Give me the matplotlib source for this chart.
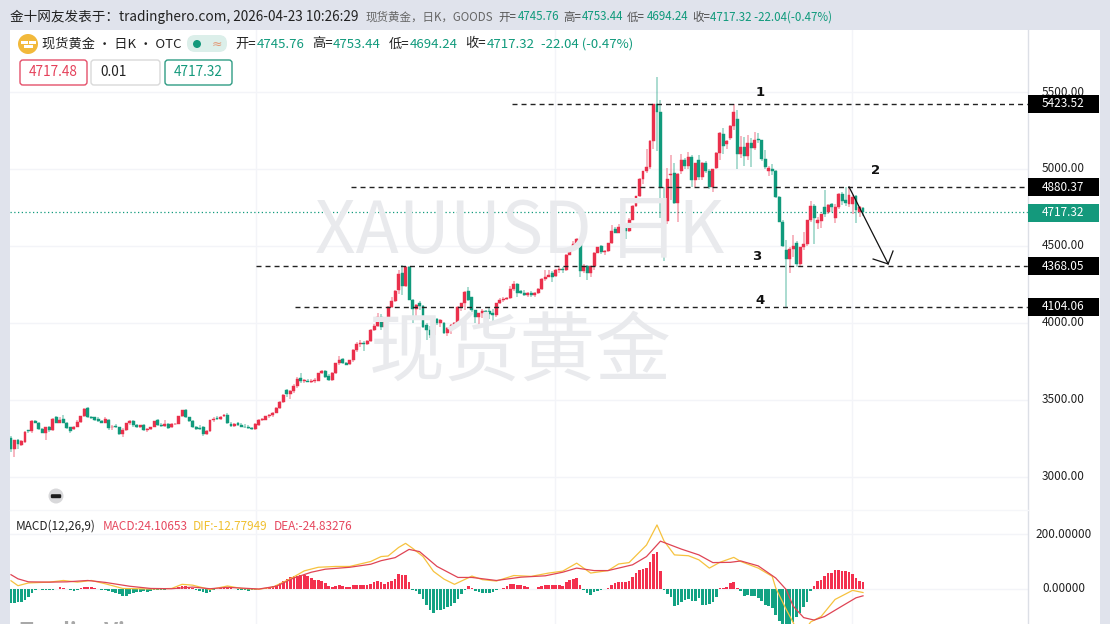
import numpy as np
import matplotlib
matplotlib.use('Agg')
import matplotlib.pyplot as plt
from matplotlib.patches import Rectangle, Circle, FancyBboxPatch

plt.rcParams['font.family'] = ['Noto Sans CJK SC', 'DejaVu Sans']

W, H = 1110, 624

# daily candles, oldest first
opens = [
    3252, 3176, 3240, 3205, 3225, 3300, 3295, 3360, 3350, 3310, 3285, 3320, 3300, 3385, 3350, 3375, 3350, 3320, 3310, 3325,
    3355, 3392, 3445, 3385, 3385, 3375, 3360, 3350, 3368, 3320, 3328, 3320, 3275, 3305, 3345, 3362, 3335, 3322, 3335, 3300,
    3310, 3325, 3365, 3335, 3328, 3342, 3322, 3340, 3342, 3392, 3435, 3385, 3360, 3320, 3318, 3320, 3275, 3295, 3365, 3382,
    3376, 3395, 3402, 3340, 3330, 3345, 3332, 3325, 3322, 3315, 3310, 3338, 3370, 3370, 3392, 3400, 3414, 3445, 3485, 3560,
    3535, 3555,
    3590, 3640, 3620, 3622, 3615, 3618, 3622, 3673, 3688, 3655, 3625, 3673, 3735, 3762, 3735, 3730, 3755, 3825, 3860, 3870, 3860,
    3880, 3955, 3980, 4040, 3970, 4010, 4105, 4140, 4210, 4320, 4240, 4360, 4145, 4090, 4130, 4110, 3985, 3950, 3918, 4025,
    3995, 3995, 3930, 3968, 3985, 3995, 4105, 4127, 4205, 4165, 4080, 4037, 4062, 4075, 4075, 4060, 4050, 4128, 4145, 4155,
    4160, 4218, 4250, 4205, 4195, 4180, 4195, 4180, 4195, 4222, 4285, 4300, 4325, 4305, 4340, 4352, 4340, 4443, 4487, 4510,
    4545, 4337, 4368, 4320, 4368, 4455, 4500, 4460, 4465, 4515, 4610, 4585, 4630, 4615, 4595, 4670, 4760, 4822, 4935, 4985,
    5010, 5180, 5423, 5373, 4790, 4660, 4960, 4975, 4780, 4985, 5060, 5020, 5080, 4925, 5060,
    4950, 5040, 4985, 4880, 5005, 5105, 5230, 5165, 5200, 5280, 5322, 5095, 5140, 5085, 5170, 5135, 5195, 5185,
    5065, 4985, 5000, 4985, 4820, 4655, 4475, 4415, 4480, 4515, 4380, 4490, 4510, 4670, 4760, 4650, 4660, 4750, 4720, 4775,
    4680, 4755, 4840, 4800, 4775, 4770, 4825, 4720, 4745.76,
]
highs = [
    3262, 3235, 3245, 3235, 3295, 3305, 3365, 3368, 3355, 3315, 3325, 3330, 3378, 3395, 3385, 3398, 3355, 3325, 3330, 3365,
    3395, 3445, 3450, 3395, 3390, 3385, 3370, 3385, 3372, 3335, 3340, 3325, 3315, 3350, 3365, 3368, 3340, 3338, 3340, 3315,
    3325, 3360, 3372, 3345, 3368, 3350, 3345, 3345, 3395, 3435, 3438, 3390, 3365, 3330, 3332, 3330, 3300, 3368, 3385, 3395,
    3392, 3408, 3410, 3355, 3345, 3352, 3345, 3340, 3332, 3322, 3345, 3375, 3380, 3395, 3405, 3420, 3450, 3490, 3535, 3570,
    3562, 3600,
    3645, 3670, 3632, 3635, 3632, 3640, 3675, 3690, 3695, 3665, 3680, 3740, 3782, 3770, 3745, 3760, 3830, 3875, 3890, 3878, 3890,
    3960, 3990, 4060, 4055, 4020, 4110, 4165, 4210, 4345, 4375, 4368, 4368, 4155, 4120, 4140, 4115, 4000, 3980, 4020, 4030,
    4025, 4005, 3970, 3990, 4005, 4108, 4130, 4205, 4235, 4170, 4085, 4065, 4090, 4085, 4100, 4090, 4130, 4160, 4165, 4170,
    4238, 4272, 4258, 4215, 4210, 4200, 4205, 4200, 4225, 4290, 4340, 4345, 4335, 4350, 4365, 4360, 4445, 4490, 4530, 4550,
    4550, 4380, 4372, 4370, 4458, 4495, 4505, 4470, 4520, 4635, 4625, 4640, 4635, 4625, 4680, 4765, 4825, 4940, 4985, 5130,
    5190, 5425, 5600, 5450, 4880, 5005, 5090, 5040, 4975, 5095, 5070, 5110, 5090, 5040, 5090,
    5045, 5050, 5000, 5000, 5110, 5240, 5265, 5185, 5285, 5420, 5380, 5215, 5205, 5220, 5200, 5240, 5235, 5190,
    5120, 5020, 5030, 4990, 4825, 4665, 4540, 4490, 4570, 4530, 4490, 4590, 4670, 4790, 4770, 4685, 4705, 4860, 4775, 4780,
    4770, 4845, 4850, 4880, 4880, 4830, 4830, 4760, 4753.44,
]
lows = [
    3160, 3125, 3180, 3200, 3220, 3285, 3285, 3345, 3300, 3280, 3235, 3290, 3298, 3345, 3345, 3345, 3310, 3285, 3300, 3320,
    3350, 3385, 3380, 3372, 3360, 3355, 3345, 3345, 3305, 3300, 3315, 3270, 3255, 3295, 3338, 3325, 3318, 3315, 3295, 3290,
    3305, 3320, 3330, 3322, 3320, 3310, 3315, 3335, 3340, 3385, 3380, 3355, 3315, 3300, 3305, 3265, 3270, 3290, 3355, 3370,
    3368, 3388, 3340, 3325, 3325, 3328, 3320, 3315, 3312, 3305, 3300, 3328, 3358, 3365, 3380, 3390, 3410, 3440, 3480, 3520,
    3505, 3545,
    3575, 3605, 3610, 3612, 3608, 3610, 3618, 3665, 3640, 3620, 3620, 3668, 3728, 3730, 3722, 3725, 3745, 3810, 3845, 3815, 3855,
    3875, 3945, 3975, 3950, 3940, 4005, 4095, 4135, 4185, 4180, 4230, 4145, 3998, 4040, 4085, 3965, 3885, 3900, 3900, 3985,
    3975, 3925, 3911, 3925, 3960, 3990, 4075, 4085, 4140, 4070, 4000, 3985, 4030, 4040, 4025, 4000, 4040, 4120, 4135, 4145,
    4155, 4205, 4165, 4185, 4175, 4170, 4170, 4170, 4185, 4215, 4270, 4295, 4265, 4300, 4325, 4325, 4335, 4440, 4470, 4500,
    4300, 4320, 4275, 4300, 4340, 4450, 4445, 4440, 4460, 4510, 4585, 4580, 4600, 4545, 4590, 4665, 4755, 4815, 4905, 4975,
    5000, 5130, 5115, 4680, 4400, 4640, 4800, 4770, 4655, 4965, 5000, 5000, 4880, 4880, 4925,
    4925, 4975, 4870, 4850, 5000, 5060, 5100, 5130, 5190, 5250, 4998, 5070, 5020, 5060, 5015, 5125, 5170, 5050,
    5000, 4955, 4960, 4810, 4655, 4490, 4104, 4325, 4430, 4365, 4360, 4470, 4500, 4655, 4510, 4610, 4615, 4690, 4710, 4720,
    4650, 4740, 4765, 4760, 4750, 4705, 4650, 4690, 4694.24,
]
closes = [
    3177, 3235, 3210, 3232, 3290, 3295, 3360, 3350, 3310, 3285, 3320, 3300, 3375, 3350, 3370, 3350, 3315, 3295, 3325, 3355,
    3392, 3440, 3385, 3378, 3367, 3360, 3350, 3372, 3315, 3325, 3322, 3275, 3305, 3345, 3358, 3332, 3322, 3332, 3300, 3310,
    3322, 3358, 3335, 3330, 3340, 3315, 3340, 3342, 3392, 3430, 3385, 3360, 3320, 3310, 3310, 3275, 3295, 3365, 3375, 3376,
    3388, 3402, 3345, 3330, 3342, 3335, 3325, 3320, 3318, 3310, 3342, 3370, 3372, 3392, 3400, 3414, 3445, 3485, 3532, 3535,
    3555, 3590,
    3637, 3620, 3625, 3615, 3622, 3630, 3673, 3685, 3650, 3625, 3673, 3735, 3760, 3735, 3728, 3755, 3825, 3860, 3870, 3860, 3880,
    3955, 3980, 4035, 3975, 4010, 4105, 4140, 4205, 4315, 4240, 4360, 4145, 4090, 4115, 4110, 3970, 3950, 3918, 4015, 3998,
    4020, 3930, 3968, 3985, 3995, 4105, 4127, 4198, 4145, 4085, 4037, 4062, 4075, 4068, 4058, 4050, 4128, 4145, 4155, 4160,
    4218, 4250, 4195, 4195, 4180, 4195, 4178, 4195, 4222, 4285, 4300, 4310, 4300, 4340, 4350, 4340, 4443, 4487, 4510, 4545,
    4337, 4368, 4320, 4368, 4455, 4492, 4460, 4465, 4515, 4595, 4585, 4625, 4615, 4595, 4670, 4760, 4822, 4935, 4985, 5010,
    5180, 5423, 5373, 4883, 4660, 4935, 4970, 4780, 4965, 5060, 5020, 5080, 4930, 5040, 4950,
    5040, 4985, 4880, 5000, 5105, 5235, 5150, 5180, 5280, 5370, 5095, 5140, 5085, 5170, 5135, 5190, 5185, 5065,
    5015, 5005, 4985, 4820, 4655, 4500, 4415, 4480, 4500, 4380, 4490, 4510, 4670, 4760, 4680, 4665, 4705, 4705, 4765, 4750,
    4755, 4840, 4790, 4780, 4830, 4820, 4735, 4755, 4717.32,
]

# MACD histogram per candle
hist = [
    -52, -52, -49, -46, -40, -28, -15, -5, 1, -4, -5, -4, -3, 0,
    7, 5, -1, -4, -6, -3, 2, 7, 8, 6, 3, 0, -2, -4, -7, -12, -15, -18, -24, -24, -18, -14, -11, -10, -8, -10, -9,
    -3, -3, -4, -2, -1, 0, 2, 8, 12, 11, 8, 3, -3, -8, -12, -16, -10, -4, 0, 3, 5, 6, 3, 0, -2, -3, -4,
    -6, -4, -3, -1, 1, 3, 5, 10, 15, 23, 30, 38, 42, 46, 48, 50, 50, 46, 40, 34, 32, 30, 23, 12, 9, 10, 14,
    12, 8, 8, 13, 15, 14, 14, 13, 18, 24, 28, 24, 19, 24, 30, 38, 55, 50, 52, 24, -2, -6, -19, -38, -57, -76, -86,
    -78, -76, -72, -67, -62, -52, -38, -19, -3, 10, 3, -8, -11, -13, -13, -15, -11, -4, 0, 4, 10, 19, 19, 16, 15, 11, 6,
    1, 1, 6, 11, 13, 15, 16, 15, 14, 11, 27, 32, 36, 40, 13, -2, -13, -21, -11, -6, -3, 0, 4, 15, 21, 25, 25,
    24, 30, 44, 57, 68, 74, 76, 100, 128, 133, 66, -2, -19, -30, -60, -58, -47, -40, -36, -42, -42, -34, -57, -57, -55, -49, -28,
    2, 2, 8, 21, 27, 5, -8, -27, -21, -27, -24, -32, -45, -57, -62, -70, -95, -118, -130, -130, -130, -120, -100, -86, -66, -47, -8,
    11, 28, 34, 47, 57, 59, 68, 68, 66, 64, 62, 55, 40, 28, 24.11,
]

# DIF / DEA read at turning points only
dif_bars = [0, 2, 5, 11, 15, 19, 23, 27, 32, 40, 46, 49, 52, 57, 62, 66, 71, 75, 80, 84, 88, 93, 97, 103,
            106, 108, 111, 113, 115, 118, 121, 124, 127, 132, 135, 139, 144, 149, 154, 158, 162, 166, 171, 174,
            177, 182, 185, 187, 190, 194, 197, 200, 203, 207, 209, 214, 218, 219, 222, 224, 226, 229, 232, 236, 241, 244]
dif_vals = [30, 12, 22, 25, 31, 25, 31, 19, 2, 0, 2, 17, 14, -2, 11, 2, -1, 7, 37, 66, 79, 82, 82, 100,
            118, 120, 151, 166, 148, 118, 64, 36, 17, 47, 34, 29, 49, 46, 58, 65, 94, 58, 67, 91,
            96, 160, 233, 175, 124, 121, 106, 76, 97, 115, 100, 76, 46, 4, -74, -122, -175, -120, -100, -38, -5, -12.78]
dea_bars = [0, 2, 5, 11, 16, 22, 27, 34, 40, 46, 52, 57, 62, 71, 76, 81, 86, 90, 97, 103,
            106, 110, 114, 117, 122, 128, 132, 139, 146, 153, 158, 162, 167, 171, 178, 182, 186, 192, 197, 201, 206, 209,
            214, 219, 222, 224, 227, 230, 233, 238, 242, 244]
dea_vals = [52, 37, 26, 25, 26, 31, 24, 10, 2, 1, 7, 1, 6, 0, 10, 40, 61, 72, 79, 90,
            103, 114, 144, 136, 82, 42, 42, 31, 43, 48, 61, 76, 67, 67, 88, 118, 174, 145, 124, 96, 97, 102,
            84, 40, -2, -62, -104, -113, -100, -62, -32, -24.83]

price_ticks = [3000, 3500, 4000, 4500, 5000, 5500]
macd_ticks = [0, 200]
level_prices = [5423.52, 4880.37, 4368.05, 4104.06]
level_start_bar = [143.5, 97.4, 70.2, 81.3]
last_price = 4717.32

RED = '#ea304c'
GREEN = '#109a7c'
BG = '#e0e3ec'
GRID = '#f3f4f8'

n = len(closes)
xs = np.arange(n)
bar_px = (863 - 11) / (n - 1)


def add_px_axes(x0, y0, x1, y1):
    ax = fig.add_axes([x0 / W, 1 - y1 / H, (x1 - x0) / W, (y1 - y0) / H])
    ax.set_facecolor('white')
    ax.set_xlim(-1 / bar_px, (x1 - 11) / bar_px)
    for s in ax.spines.values():
        s.set_visible(False)
    ax.set_xticks([])
    ax.set_yticks([])
    return ax


def txt(x, y, s, size=9, color='black', **kw):
    kw.setdefault('va', 'center')
    kw.setdefault('ha', 'left')
    return fig.text(x / W, 1 - y / H, s, fontsize=size, color=color, **kw)


fig = plt.figure(figsize=(W / 100, H / 100), dpi=100, facecolor=BG)
fig.patches.append(Rectangle((10 / W, 0), 1090 / W, 1 - 30 / H, transform=fig.transFigure,
                             facecolor='white', edgecolor='none', zorder=-5))

# price pane
ax = add_px_axes(10, 30, 1028, 510)
ax.set_ylim(3000 - 33.5 / 0.1538, 5500 + 62 / 0.1538)
for p in price_ticks:
    ax.axhline(p, color=GRID, lw=1, zorder=0)
    txt(1042, 92 + (5500 - p) * 0.1538, '%.2f' % p, 8.5, '#222222')
for vx in [256, 555, 852]:
    ax.axvline((vx - 11) / bar_px, color=GRID, lw=1, zorder=0)

# watermarks
txt(315, 233, 'XAUUSD 日K', 51, '#e9eaed', zorder=0.5, fontweight='light')
txt(369, 353, '现货黄金', 54.5, '#e9eaed', zorder=0.5)
ax.patch.set_alpha(0)

o = np.array(opens, dtype=float)
c = np.array(closes, dtype=float)
up = c >= o
colors = [RED if u else GREEN for u in up]
ax.vlines(xs, lows, highs, colors=colors, lw=1.1, alpha=0.45, zorder=2)
ax.bar(xs, np.abs(c - o), bottom=np.minimum(o, c), width=0.84, color=colors, edgecolor=colors, lw=0.3, zorder=3)

ax.axhline(last_price, color=GREEN, lw=0.9, ls=(0, (1, 2)), zorder=1)
for p, sb in zip(level_prices, level_start_bar):
    ax.plot([sb, (1028 - 11) / bar_px], [p, p], color='#222222', lw=1, ls=(0, (3.6, 2.9)), zorder=4)

# forecast arrow
ax.plot([240, 251.2], [4883, 4382], color='#111111', lw=0.9, zorder=5)
ax.plot([246.9, 251.2, 252.6], [4414, 4382, 4466], color='#111111', lw=0.9, zorder=5)

# level numbers
for lx, ly, nm in [(760, 93, '1'), (876, 171, '2'), (757, 257, '3'), (760, 300, '4')]:
    txt(lx, ly, nm, 9.5, '#111111', ha='center', fontweight='bold', family='DejaVu Sans')

# dark marker under the chart
fig.patches.append(Circle((56, H - 496), 7.5, transform=None, facecolor='#d8d8da', edgecolor='none', zorder=6))
fig.patches.append(FancyBboxPatch((51, H - 498), 10, 3.6, boxstyle='round,pad=0.2,rounding_size=1.2', transform=None,
                                  facecolor='#1c1c1c', edgecolor='none', zorder=7))

# macd pane
ax2 = add_px_axes(10, 510, 1028, 624)
ax2.set_ylim(-35 / 0.275, 79 / 0.275)
for t in macd_ticks:
    ax2.axhline(t, color=GRID, lw=1, zorder=0)
for vx in [256, 555, 852]:
    ax2.axvline((vx - 11) / bar_px, color=GRID, lw=1, zorder=0)
hist_arr = np.array(hist)
ax2.bar(xs, hist_arr, width=0.76, color=['#f3304e' if h >= 0 else '#12a283' for h in hist_arr], lw=0, zorder=2)
ax2.plot(dif_bars, dif_vals, color='#f6c23e', lw=0.9, zorder=3)
ax2.plot(dea_bars, dea_vals, color='#df4454', lw=0.9, zorder=4)

# axis edge and separator
fig.add_artist(plt.Line2D([1028 / W, 1028 / W], [0, 1 - 30 / H], color='#dcdfe6', lw=1))
fig.add_artist(plt.Line2D([10 / W, 1028 / W], [1 - 510 / H, 1 - 510 / H], color='#f5f6f9', lw=1))

txt(1035, 535, '200.00000', 8.5, '#222222')
txt(1042, 588, '0.00000', 8.5, '#222222')
txt(16, 526, 'MACD(12,26,9)', 8.5, '#222222')
txt(103, 526, 'MACD:24.10653', 8.5, '#e6485f')
txt(193, 526, 'DIF:-12.77949', 8.5, '#f0c030')
txt(274, 526, 'DEA:-24.83276', 8.5, '#e6485f')
txt(19, 632, 'TradingView', 16, '#a8a8a8', fontweight='bold')


def price_tag(y, s, face):
    fig.patches.append(Rectangle((1028, H - y - 9), 71, 18, transform=None, facecolor=face, edgecolor='none', zorder=8))
    txt(1042, y, s, 8.5, 'white', zorder=9)


for p in level_prices:
    price_tag(92 + (5500 - p) * 0.1538, '%.2f' % p, 'black')
price_tag(212.5, '%.2f' % last_price, '#14997c')

# header line
txt(10, 17, '金十网友发表于：tradinghero.com, 2026-04-23 10:26:29', 9.8, '#222222')
txt(366, 17, '现货黄金，日K，GOODS', 8.3, '#666666')
for tx, s, col in [(498, '开=', '#555555'), (518, '4745.76', GREEN), (563, '高=', '#555555'), (582, '4753.44', GREEN),
                   (627, '低=', '#555555'), (647, '4694.24', GREEN), (692, '收=', '#555555'), (710, '4717.32 -22.04(-0.47%)', GREEN)]:
    txt(tx, 17, s, 8.3, col)

# legend line
fig.patches.append(Circle((28, H - 44), 10, transform=None, facecolor='#f2b93b', edgecolor='none', zorder=6))
fig.patches.append(Rectangle((23.5, H - 48), 9, 3, transform=None, facecolor='white', edgecolor='none', zorder=7))
fig.patches.append(Rectangle((20.5, H - 43.5), 7, 3, transform=None, facecolor='white', edgecolor='none', zorder=7))
fig.patches.append(Rectangle((29, H - 43.5), 7, 3, transform=None, facecolor='white', edgecolor='none', zorder=7))
txt(42, 44, '现货黄金 · 日K · OTC', 9.5, '#222222')
fig.patches.append(FancyBboxPatch((187, H - 52), 40, 17, boxstyle='round,pad=0,rounding_size=8', transform=None,
                                  facecolor='#dcefea', edgecolor='none', zorder=6, mutation_aspect=1))
fig.patches.append(Circle((197, H - 44), 4, transform=None, facecolor='#14997c', edgecolor='none', zorder=7))
txt(217, 44, '≈', 9, '#e39a78', ha='center', zorder=7, family='DejaVu Sans')
for tx, s, col in [(235, '开=', '#222222'), (257, '4745.76', GREEN), (312, '高=', '#222222'), (333, '4753.44', GREEN),
                   (389, '低=', '#222222'), (410, '4694.24', GREEN), (465, '收=', '#222222'), (487, '4717.32', GREEN),
                   (541, '-22.04 (-0.47%)', GREEN)]:
    txt(tx, 44, s, 9.5, col)

# order boxes
for bx, bw, edge, s, col in [(20, 67, '#e5506a', '4717.48', '#e5405a'), (91, 69, '#d9d9d9', '0.01', '#222222'),
                             (165, 67, '#2f9c84', '4717.32', '#14997c')]:
    fig.patches.append(FancyBboxPatch((bx, H - 85), bw, 25, boxstyle='round,pad=0,rounding_size=3', transform=None,
                                      facecolor='white', edgecolor=edge, lw=1, zorder=6))
    txt(bx + 9, 72.5, s, 9.8, col, zorder=7)

fig.savefig('out.png', dpi=100, facecolor=BG)
